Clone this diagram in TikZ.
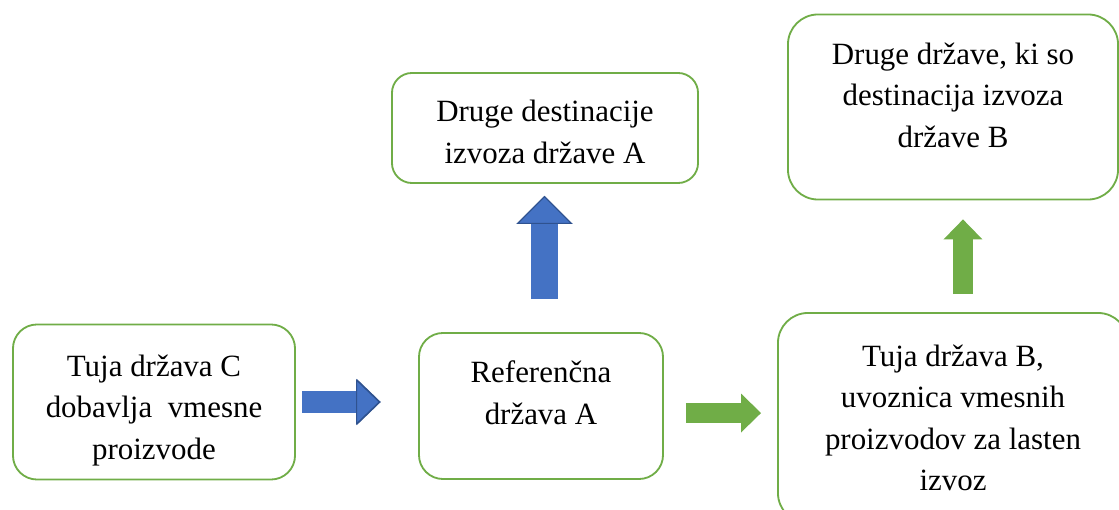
\documentclass[tikz,border=0pt]{standalone}
\usepackage{fontspec}
\setmainfont{Liberation Serif}
\usetikzlibrary{arrows.meta, calc}
\definecolor{boxgreen}{RGB}{112, 173, 71}
\definecolor{flowblue}{RGB}{68, 114, 196}
\definecolor{edgeblue}{RGB}{47, 82, 143}
% invisible struts to move a text block up or down inside its box
\newcommand{\liftup}[1]{\rule[-#1]{0pt}{0pt}}
\newcommand{\pushdown}[1]{\rule{0pt}{#1}}

\begin{document}
\begin{tikzpicture}[x=0.025cm, y=-0.025cm,
  box/.style={draw=boxgreen, line width=1.3pt, rounded corners=0.6cm, fill=white, align=center, inner sep=4pt, font=\fontsize{22}{29.5}\selectfont},
  bluearrow/.style={draw=flowblue, -{Triangle[length=0.6cm, width=1.15cm, fill=flowblue, color=edgeblue, line width=0.8pt]}},
  blueup/.style={draw=flowblue, -{Triangle[length=0.7cm, width=1.4cm, fill=flowblue, color=edgeblue, line width=0.8pt]}},
  greenarrow/.style={draw=boxgreen, line width=14.2pt, -{Triangle[length=0.5cm, width=0.975cm, line width=0pt]}}]
  \useasboundingbox (0,0) rectangle (1119,510);
  \clip (0,0) rectangle (1119,510);

  % Bottom row
  \node[box, minimum width=7.05cm, minimum height=3.875cm] (srcC) at (154,402) {
    \pushdown{27pt}Tuja država C\\
    dobavlja~ vmesne\\
    proizvode
  };
  \node[box, minimum width=6.1cm, minimum height=3.65cm] (ref) at (541,406) {
    Referenčna\\
    država A\liftup{19pt}
  };
  \node[box, minimum width=8.75cm, minimum height=5.25cm, rounded corners=0.75cm] (impB) at (953,418) {
    Tuja država B,\\
    uvoznica vmesnih\\
    proizvodov za lasten\\
    izvoz
  };

  % Top row
  \node[box, minimum width=7.65cm, minimum height=2.75cm, rounded corners=0.5cm] (destA) at (545,128) {
    \pushdown{21pt}Druge destinacije\\
    izvoza države A
  };
  \node[box, minimum width=8.25cm, minimum height=4.625cm, rounded corners=0.75cm] (destB) at (953,107) {
    Druge države, ki so\\
    destinacija izvoza\\
    države B\liftup{17pt}
  };

  % Flows
  \draw[bluearrow, line width=16.2pt, shorten <=4.3pt, shorten >=26.5pt] (srcC.east) -- (srcC.east -| ref.west);
  \draw[bluearrow, line width=14.9pt, shorten <=5pt, shorten >=27pt] (srcC.east) -- (srcC.east -| ref.west);
  \draw[blueup, line width=19pt, shorten <=23.5pt, shorten >=8.5pt] ([xshift=2.5pt]ref.north) -- ([xshift=2.5pt]ref.north |- destA.south);
  \draw[blueup, line width=17.6pt, shorten <=24.2pt, shorten >=8.5pt] ([xshift=2.5pt]ref.north) -- ([xshift=2.5pt]ref.north |- destA.south);
  \draw[greenarrow, shorten <=15.6pt, shorten >=11.4pt] ([yshift=-5pt]ref.east) -- ([yshift=-5pt]ref.east -| impB.west);
  \draw[greenarrow, shorten <=12.8pt, shorten >=13.5pt] ([xshift=7.1pt]impB.north) -- ([xshift=7.1pt]impB.north |- destB.south);
\end{tikzpicture}
\end{document}
